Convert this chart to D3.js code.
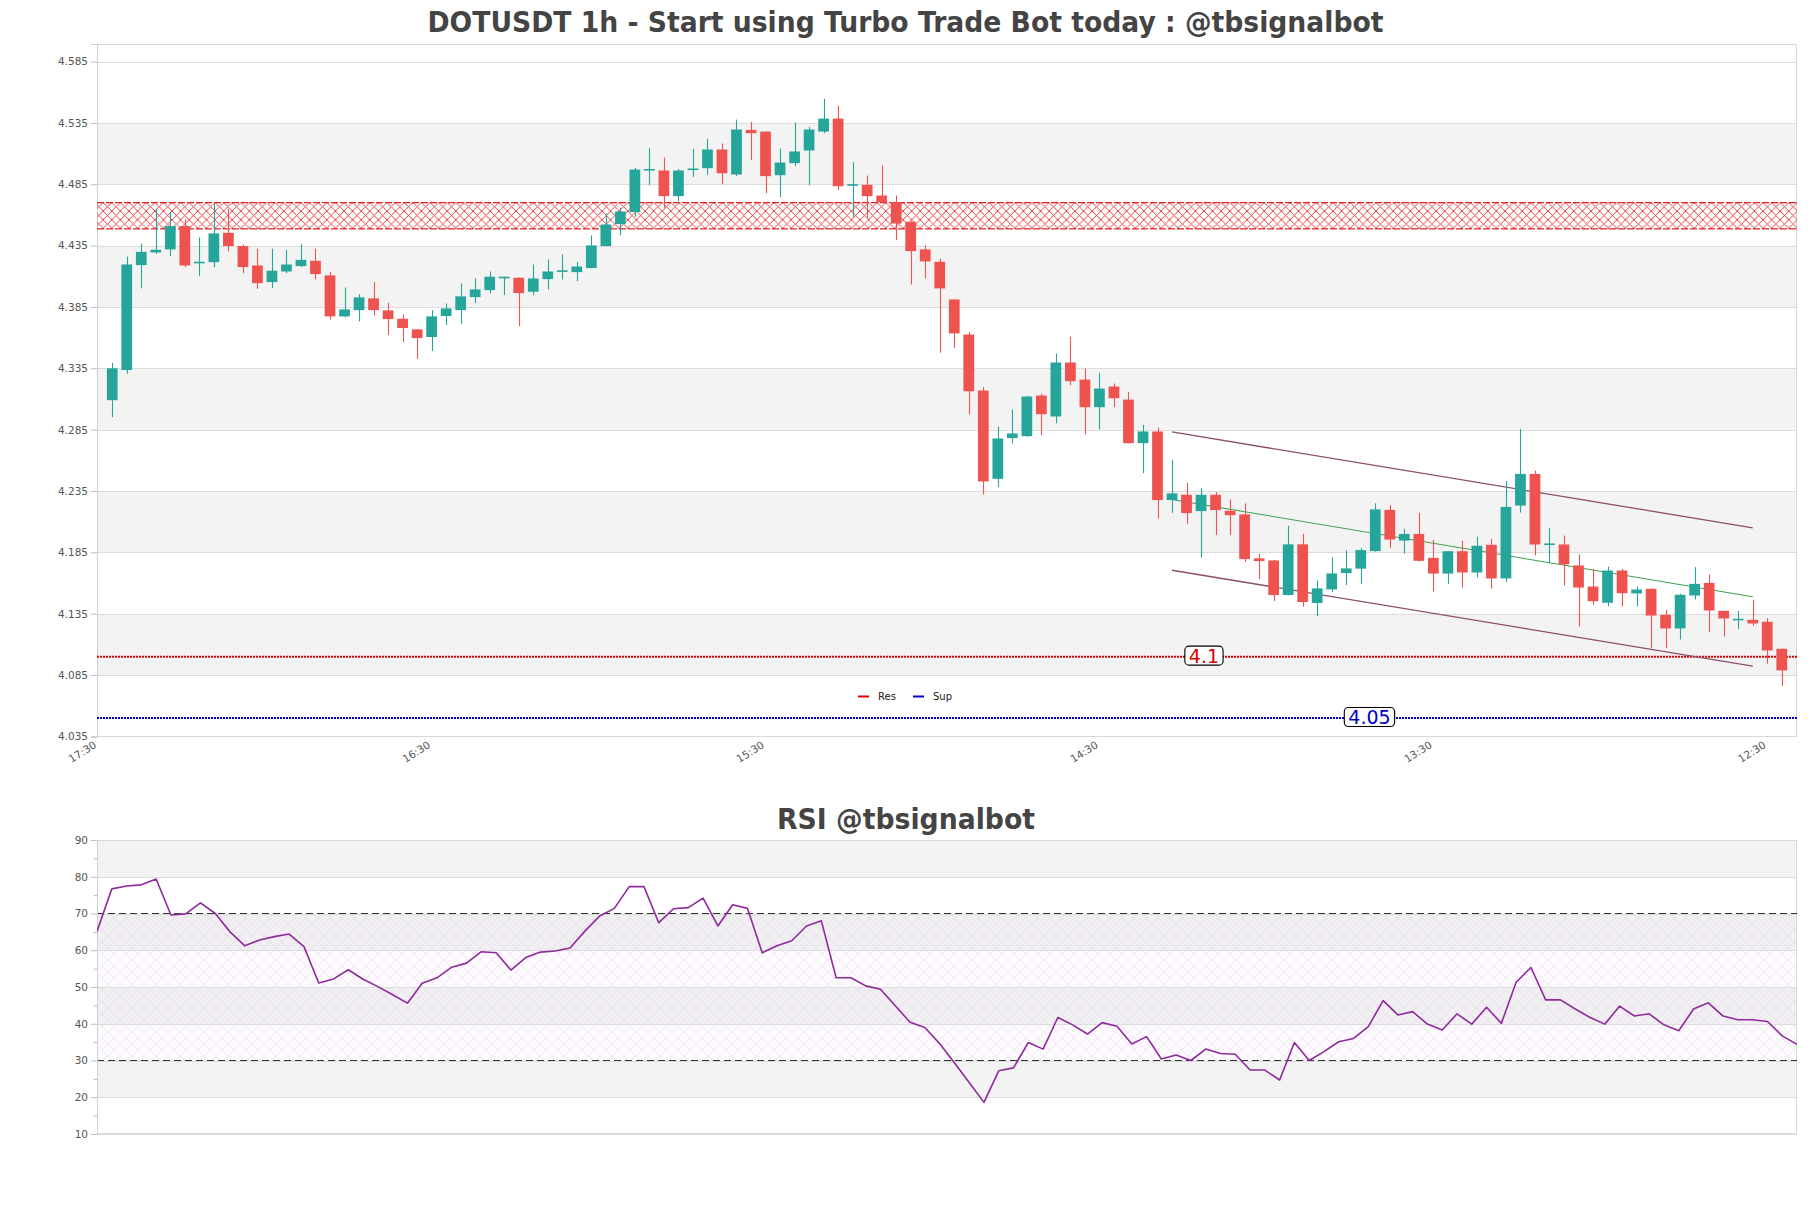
<!DOCTYPE html>
<html><head><meta charset="utf-8">
<script src="https://cdn.jsdelivr.net/npm/d3@7"></script>
<style>
body{margin:0;background:#fff}
svg{display:block}
text{font-family:"DejaVu Sans","Liberation Sans",sans-serif}
</style>
</head><body>
<svg id="chart" width="1811" height="1208"></svg>
<script>
// ---------------- DATA ----------------
const titleMain = "DOTUSDT 1h - Start using Turbo Trade Bot today : @tbsignalbot";
const titleRsi = "RSI @tbsignalbot";

const openP = [4.309,4.3336,4.4191,4.4294,4.4319,4.4509,4.4208,4.4215,4.4454,4.4346,
4.4188,4.4053,4.4139,4.4183,4.4226,4.4107,4.3773,4.3824,4.3920,4.3822,
4.3754,4.3667,4.3605,4.3776,4.3824,4.3930,4.3987,4.4086,4.4088,4.3974,
4.4077,4.4138,4.4134,4.4167,4.4346,4.4525,4.4623,4.4963,4.4962,4.4753,
4.4960,4.4981,4.5133,4.4929,4.5293,4.5279,4.4924,4.5022,4.5125,4.5279,
4.5385,4.4840,4.4845,4.4758,4.4704,4.4544,4.4319,4.4218,4.3911,4.3625,
4.3169,4.2449,4.2781,4.2797,4.3128,4.2957,4.3397,4.3258,4.3033,4.3201,
4.3095,4.2740,4.2835,4.2276,4.2319,4.2186,4.2319,4.2189,4.2159,4.1801,
4.1784,4.1502,4.1915,4.1437,4.1548,4.1681,4.1717,4.1860,4.2196,4.1946,
4.2000,4.1805,4.1677,4.1859,4.1686,4.1911,4.1637,4.2231,4.2489,4.1912,
4.1914,4.1743,4.1571,4.1439,4.1702,4.1515,4.1553,4.1341,4.1230,4.1498,
4.1601,4.1373,4.1299,4.1300,4.1284,4.1064];
const highP = [4.3396,4.4259,4.4367,4.4652,4.4625,4.4563,4.4416,4.4693,4.4650,4.4359,
4.4324,4.4324,4.4316,4.4365,4.4324,4.4134,4.4009,4.3955,4.4052,4.3884,
4.3787,4.3672,4.3825,4.3879,4.4042,4.4083,4.4139,4.4093,4.4090,4.4196,
4.4237,4.4278,4.4218,4.4433,4.4612,4.4658,4.4984,4.5146,4.5068,4.4975,
4.5138,4.5220,4.5182,4.5377,4.5358,4.5281,4.5141,4.5353,4.5317,4.5548,
4.5491,4.5030,4.4921,4.5003,4.4758,4.4546,4.4351,4.4243,4.3913,4.3646,
4.3196,4.2876,4.3014,4.3125,4.3144,4.3470,4.3608,4.3348,4.3315,4.3226,
4.3158,4.2889,4.2867,4.2604,4.2417,4.2373,4.2341,4.2281,4.2249,4.1839,
4.1786,4.2067,4.2001,4.1621,4.1809,4.1868,4.1887,4.2249,4.2237,4.2041,
4.2171,4.1952,4.1861,4.1943,4.1976,4.1960,4.2432,4.2855,4.2516,4.2049,
4.1987,4.1832,4.1715,4.1734,4.1715,4.1572,4.1555,4.1381,4.1512,4.1729,
4.1669,4.1375,4.1373,4.1463,4.1314,4.1066];
const lowP = [4.2953,4.3306,4.4001,4.4281,4.4264,4.4175,4.4101,4.4175,4.4302,4.4126,
4.3998,4.4004,4.4126,4.4175,4.4074,4.3748,4.3765,4.3732,4.3781,4.3621,
4.3564,4.3428,4.3491,4.3702,4.3710,4.3881,4.3960,4.3947,4.3694,4.3947,
4.3993,4.4074,4.4061,4.4165,4.4344,4.4435,4.4585,4.4842,4.4658,4.4712,
4.4910,4.4927,4.4851,4.4916,4.5046,4.4777,4.4745,4.4997,4.4842,4.5266,
4.4802,4.4582,4.4576,4.4700,4.4395,4.4033,4.4082,4.3477,4.3515,4.2973,
4.2322,4.2381,4.2737,4.2791,4.2805,4.2903,4.3212,4.2813,4.2851,4.3033,
4.2738,4.2495,4.2126,4.2172,4.2080,4.1806,4.1991,4.1991,4.1771,4.1630,
4.1453,4.1500,4.1407,4.1331,4.1526,4.1583,4.1594,4.1855,4.1886,4.1840,
4.1775,4.1531,4.1593,4.1561,4.1645,4.1553,4.1607,4.2174,4.1824,4.1762,
4.1580,4.1246,4.1425,4.1409,4.1409,4.1409,4.1069,4.1069,4.1140,4.1466,
4.1200,4.1164,4.1224,4.1251,4.0942,4.0760];
const closeP = [4.335,4.4196,4.4299,4.4316,4.4509,4.4188,4.4212,4.4449,4.4346,4.4175,
4.4044,4.4145,4.4196,4.4234,4.4118,4.3773,4.3830,4.3928,4.3824,4.3751,
4.3678,4.3596,4.3773,4.3838,4.3936,4.3993,4.4096,4.4090,4.3963,4.4082,
4.4139,4.4142,4.4180,4.4351,4.4522,4.4628,4.4970,4.4968,4.4753,4.4962,
4.4972,4.5133,4.4940,4.5296,4.5266,4.4916,4.5027,4.5117,4.5296,4.5385,
4.4834,4.4844,4.4753,4.4704,4.4530,4.4305,4.4221,4.4001,4.3635,4.3163,
4.2428,4.2778,4.2819,4.3120,4.2976,4.3397,4.3245,4.3033,4.3185,4.3106,
4.2740,4.2835,4.2276,4.2330,4.2170,4.2319,4.2194,4.2153,4.1795,4.1779,
4.1502,4.1915,4.1445,4.1556,4.1678,4.1719,4.1868,4.2200,4.1954,4.2000,
4.1781,4.1677,4.1859,4.1686,4.1903,4.1637,4.2220,4.2489,4.1914,4.1916,
4.1751,4.1563,4.1452,4.1702,4.1517,4.1547,4.1335,4.1230,4.1504,4.1593,
4.1376,4.1311,4.1302,4.1270,4.1050,4.0888];
const rsiValues = [65.1,76.7,77.5,77.8,79.4,69.6,69.9,72.9,70.0,65.0,
61.2,62.8,63.7,64.4,61.0,51.1,52.2,54.7,52.1,50.1,
47.9,45.6,51.0,52.5,55.4,56.5,59.6,59.3,54.6,58.0,
59.5,59.8,60.6,65.2,69.3,71.4,77.3,77.3,67.5,71.3,
71.6,74.2,66.6,72.4,71.4,59.3,61.2,62.6,66.6,68.0,
52.5,52.5,50.3,49.4,44.9,40.4,39.0,34.6,29.4,24.0,
18.6,27.2,28.0,34.9,33.1,41.7,39.7,37.2,40.3,39.3,
34.5,36.5,30.4,31.5,30.0,33.1,31.9,31.7,27.4,27.4,
24.7,34.9,30.0,32.4,35.1,36.0,39.2,46.3,42.4,43.3,
39.9,38.3,42.7,39.9,44.5,40.1,51.3,55.3,46.5,46.5,
44.0,41.7,39.9,44.8,42.1,42.7,39.7,38.1,44.0,45.7,
42.1,41.1,41.1,40.6,36.7,34.4];

const xTickIndex = [-1, 22, 45, 68, 91, 114];
const xTickLabels = ["17:30","16:30","15:30","14:30","13:30","12:30"];
const yTickLabels = ["4.035","4.085","4.135","4.185","4.235","4.285","4.335","4.385","4.435","4.485","4.535","4.585"];
const rsiTickLabels = ["10","20","30","40","50","60","70","80","90"];
const rsiMinorTicks = [15,25,35,45,55,65,75,85];
const rsiLevels = [70, 30];
const rsiHatchRange = [30, 70];

const resZone = [4.4487, 4.4701];
const resLevel = 4.1, supLevel = 4.05;
const resLabelAt = 75.2, supLabelAt = 86.6;
const channelIdx = [73, 113];
const channelUpper = [4.2831, 4.2050];
const channelMid = [4.2280, 4.1488];
const channelLower = [4.1704, 4.0923];
const legendItems = ["Res","Sup"];

// ---------------- LAYOUT ----------------
const svg = d3.select("#chart");
const P = {l:97, r:1797, t:44, b:737};
const R = {l:97, r:1797, t:840, b:1134};
const UP = "#26a69a", DN = "#ef5350";
const n = openP.length;

const x = d3.scaleLinear().domain([-1.05, 116.05]).range([P.l, P.r]);
const y = d3.scaleLinear().domain([4.0345, 4.5993]).range([P.b, P.t]);
const xr = d3.scaleLinear().domain([0, n-1]).range([R.l, R.r]);
const yr = d3.scaleLinear().domain([10, 90]).range([R.b, R.t]);

const defs = svg.append("defs");
const pr = defs.append("pattern").attr("id","hatchRed").attr("patternUnits","userSpaceOnUse")
  .attr("width",8.6).attr("height",8.6).attr("y", y(resZone[1]));
pr.append("path").attr("d","M0,0L8.6,8.6M8.6,0L0,8.6").attr("stroke","#e02020").attr("stroke-width",0.85).attr("fill","none");
const pp = defs.append("pattern").attr("id","hatchPurple").attr("patternUnits","userSpaceOnUse")
  .attr("width",12).attr("height",12);
pp.append("path").attr("d","M0,0L12,12M12,0L0,12").attr("stroke","#d7c8e2").attr("stroke-width",0.5).attr("fill","none").attr("opacity",0.7);
defs.append("clipPath").attr("id","clipMain").append("rect")
  .attr("x",P.l).attr("y",P.t).attr("width",P.r-P.l).attr("height",P.b-P.t);
defs.append("clipPath").attr("id","clipRsi").append("rect")
  .attr("x",R.l).attr("y",R.t).attr("width",R.r-R.l).attr("height",R.b-R.t);

// Titles
function fitTitle(txt, cx, baseline, targetW){
  const t = svg.append("text").attr("x",cx).attr("y",baseline).attr("text-anchor","middle")
    .attr("font-size",28).attr("font-weight","bold").attr("fill","#444").text(txt);
  const w = t.node().getComputedTextLength();
  if (w > 0) t.attr("textLength", targetW).attr("lengthAdjust","spacingAndGlyphs");
  return t;
}
fitTitle(titleMain, 905.5, 32, 956);
fitTitle(titleRsi, 906, 829, 258);

// ---------------- MAIN PANEL ----------------
const yTickVals = yTickLabels.map(Number);
const gMain = svg.append("g");
yTickVals.forEach((v,k)=>{
  if (k % 2 === 1 && k+1 < yTickVals.length){
    gMain.append("rect").attr("x",P.l).attr("width",P.r-P.l)
      .attr("y",y(yTickVals[k+1])).attr("height",y(yTickVals[k])-y(yTickVals[k+1]))
      .attr("fill","#f3f3f3");
  }
});
gMain.selectAll("line.grid").data(yTickVals).enter().append("line")
  .attr("x1",P.l).attr("x2",P.r).attr("y1",d=>Math.round(y(d))+0.5).attr("y2",d=>Math.round(y(d))+0.5)
  .attr("stroke","#dcdcdc").attr("stroke-width",1);
gMain.append("rect").attr("x",P.l+0.5).attr("y",P.t+0.5).attr("width",P.r-P.l-1).attr("height",P.b-P.t-1)
  .attr("fill","none").attr("stroke","#d9d9d9");

const yAxis = d3.axisLeft(y).tickValues(yTickVals).tickFormat((d,i)=>yTickLabels[i]).tickSize(6).tickPadding(3);
const ya = svg.append("g").attr("transform",`translate(${P.l},0)`).call(yAxis);
ya.select(".domain").attr("stroke","#cfcfcf");
ya.selectAll(".tick line").attr("stroke","#bbb");
ya.selectAll(".tick text").attr("font-size",10.5).attr("fill","#555").attr("font-family","DejaVu Sans");

const xAxis = d3.axisBottom(x).tickValues(xTickIndex).tickFormat((d,i)=>xTickLabels[i]).tickSize(0);
const xa = svg.append("g").attr("transform",`translate(0,${P.b})`).call(xAxis);
xa.select(".domain").remove();
xa.selectAll(".tick text").attr("font-size",10.5).attr("fill","#555").attr("font-family","DejaVu Sans")
  .attr("text-anchor","end").attr("y",0).attr("dy",0)
  .attr("transform","translate(-1,10) rotate(-32)");

const gc = svg.append("g").attr("clip-path","url(#clipMain)");

gc.append("rect").attr("x",P.l).attr("width",P.r-P.l)
  .attr("y",y(resZone[1])).attr("height",y(resZone[0])-y(resZone[1]))
  .attr("fill","url(#hatchRed)");
resZone.forEach(v=>{
  gc.append("line").attr("x1",P.l).attr("x2",P.r).attr("y1",y(v)).attr("y2",y(v))
    .attr("stroke","#e02020").attr("stroke-width",1.3).attr("stroke-dasharray","7,2");
});

gc.append("line").attr("x1",P.l).attr("x2",P.r).attr("y1",y(resLevel)).attr("y2",y(resLevel))
  .attr("stroke","#e00000").attr("stroke-width",2).attr("stroke-dasharray","2,1");
gc.append("line").attr("x1",P.l).attr("x2",P.r).attr("y1",y(supLevel)).attr("y2",y(supLevel))
  .attr("stroke","#0000cc").attr("stroke-width",2).attr("stroke-dasharray","2,1");

const lineGen = d3.line().x(d=>x(d[0])).y(d=>y(d[1]));
gc.append("path").attr("d",lineGen(channelIdx.map((c,i)=>[c,channelUpper[i]])))
  .attr("stroke","#8a5068").attr("stroke-width",1.3).attr("fill","none");
gc.append("path").attr("d",lineGen(channelIdx.map((c,i)=>[c,channelLower[i]])))
  .attr("stroke","#8a5068").attr("stroke-width",1.3).attr("fill","none");
gc.append("path").attr("d",lineGen(channelIdx.map((c,i)=>[c,channelMid[i]])))
  .attr("stroke","#3fa34d").attr("stroke-width",1.1).attr("fill","none");

const step = x(1)-x(0);
const bw = step*0.74;
const candles = d3.range(n).map(i=>({i,o:openP[i],h:highP[i],l:lowP[i],c:closeP[i]}));
const cg = gc.selectAll("g.c").data(candles).enter().append("g");
cg.append("line").attr("x1",d=>Math.round(x(d.i))+0.5).attr("x2",d=>Math.round(x(d.i))+0.5)
  .attr("y1",d=>y(d.h)).attr("y2",d=>y(d.l))
  .attr("stroke",d=>d.c>=d.o?UP:DN).attr("stroke-width",1.1);
cg.append("rect").attr("x",d=>x(d.i)-bw/2).attr("width",bw)
  .attr("y",d=>Math.min(y(d.o),y(d.c)) - (Math.abs(y(d.o)-y(d.c))<1.6?0.8:0))
  .attr("height",d=>Math.max(1.6,Math.abs(y(d.o)-y(d.c))))
  .attr("fill",d=>d.c>=d.o?UP:DN);

function levelLabel(val, at, color){
  const g = svg.append("g");
  const t = g.append("text").attr("x",x(at)).attr("y",y(val)).attr("text-anchor","middle")
    .attr("dy","0.36em").attr("font-size",19).attr("fill",color).text(String(val));
  const bb = t.node().getBBox();
  g.insert("rect","text").attr("x",bb.x-4).attr("y",y(val)-10.5).attr("width",bb.width+8).attr("height",19)
    .attr("rx",4).attr("fill","#fff").attr("stroke","#000").attr("stroke-width",1.1);
  t.attr("dy","0.31em");
}
levelLabel(resLevel, resLabelAt, "#e00000");
levelLabel(supLevel, supLabelAt, "#0000cc");

const legColors = ["#e00000","#0000cc"];
const lg = svg.append("g").attr("transform","translate(858,696)");
legendItems.forEach((name,i)=>{
  const gx = i*55;
  lg.append("line").attr("x1",gx).attr("x2",gx+11).attr("y1",0.5).attr("y2",0.5)
    .attr("stroke",legColors[i]).attr("stroke-width",2);
  lg.append("text").attr("x",gx+20).attr("y",0).attr("dy","0.35em").attr("font-size",10)
    .attr("fill","#222").text(name);
});

// ---------------- RSI PANEL ----------------
const rsiTickVals = rsiTickLabels.map(Number);
const gR = svg.append("g");
rsiTickVals.forEach((v,k)=>{
  if (k % 2 === 1 && k+1 < rsiTickVals.length){
    gR.append("rect").attr("x",R.l).attr("width",R.r-R.l)
      .attr("y",yr(rsiTickVals[k+1])).attr("height",yr(rsiTickVals[k])-yr(rsiTickVals[k+1]))
      .attr("fill","#f3f3f3");
  }
});
gR.append("rect").attr("x",R.l).attr("width",R.r-R.l)
  .attr("y",yr(rsiHatchRange[1])).attr("height",yr(rsiHatchRange[0])-yr(rsiHatchRange[1]))
  .attr("fill","#b48cd2").attr("opacity",0.03);
gR.append("rect").attr("x",R.l).attr("width",R.r-R.l)
  .attr("y",yr(rsiHatchRange[1])).attr("height",yr(rsiHatchRange[0])-yr(rsiHatchRange[1]))
  .attr("fill","url(#hatchPurple)");
gR.selectAll("line.g").data(rsiTickVals).enter().append("line")
  .attr("x1",R.l).attr("x2",R.r).attr("y1",d=>Math.round(yr(d))+0.5).attr("y2",d=>Math.round(yr(d))+0.5)
  .attr("stroke","#dcdcdc");
gR.append("rect").attr("x",R.l+0.5).attr("y",R.t+0.5).attr("width",R.r-R.l-1).attr("height",R.b-R.t-1)
  .attr("fill","none").attr("stroke","#d9d9d9");
rsiLevels.forEach(v=>{
  gR.append("line").attr("x1",R.l).attr("x2",R.r).attr("y1",yr(v)).attr("y2",yr(v))
    .attr("stroke","#333").attr("stroke-width",1.2).attr("stroke-dasharray","7,4");
});

const ra = svg.append("g").attr("transform",`translate(${R.l},0)`)
  .call(d3.axisLeft(yr).tickValues(rsiTickVals).tickFormat((d,i)=>rsiTickLabels[i]).tickSize(6).tickPadding(3));
ra.select(".domain").attr("stroke","#cfcfcf");
ra.selectAll(".tick line").attr("stroke","#bbb");
ra.selectAll(".tick text").attr("font-size",10.5).attr("fill","#555").attr("font-family","DejaVu Sans");
const rm = svg.append("g").attr("transform",`translate(${R.l},0)`)
  .call(d3.axisLeft(yr).tickValues(rsiMinorTicks).tickFormat("").tickSize(3.5));
rm.select(".domain").remove();
rm.selectAll(".tick line").attr("stroke","#bbb");

svg.append("g").attr("clip-path","url(#clipRsi)").append("path")
  .datum(rsiValues)
  .attr("d", d3.line().x((d,i)=>xr(i)).y(d=>yr(d)))
  .attr("fill","none").attr("stroke","#8e2a9c").attr("stroke-width",1.6).attr("stroke-linejoin","round");
</script>
</body></html>
